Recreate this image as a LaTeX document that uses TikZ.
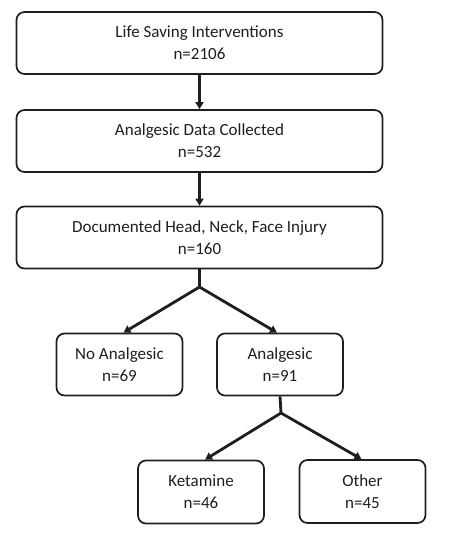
\documentclass[tikz,border=0pt]{standalone}
\usepackage{fontspec}
\setmainfont{Carlito}
\usetikzlibrary{arrows.meta}
\definecolor{ink}{HTML}{1E1E1E}
\definecolor{txt}{HTML}{1E1E1E}
\begin{document}
\begin{tikzpicture}[x=1pt,y=-1pt,
  box/.style={draw=ink, line width=1.7pt, rounded corners=8pt, inner sep=0pt, align=center,
    text=txt, font=\fontsize{17}{22}\selectfont, minimum height=62pt},
  wide/.style={box, minimum width=366pt},
  small/.style={box, minimum width=126pt},
  conn/.style={draw=ink, line width=2.8pt},
  arr/.style={conn, -{Triangle[length=7pt,width=8pt]}}]
\useasboundingbox (0,0) rectangle (456,540);
\node[wide] (b1) at (199.5,43) {Life Saving Interventions\\n=2106};
\node[wide] (b2) at (199.5,141) {Analgesic Data Collected\\n=532};
\node[wide] (b3) at (199.5,237.5) {Documented Head, Neck, Face Injury\\n=160};
\node[small] (noa) at (119.5,364.5) {No Analgesic\\n=69};
\node[small] (ana) at (280,364.5) {Analgesic\\n=91};
\node[small, minimum height=63pt] (ket) at (201,492) {Ketamine\\n=46};
\node[small, minimum height=63pt] (oth) at (362.5,491.5) {Other\\n=45};
\coordinate (s1) at (199.5,287);
\coordinate (s2) at (281,413);
\draw[arr] (b1.south) -- (b2.north);
\draw[arr] (b2.south) -- (b3.north);
\draw[conn] (b3.south) -- (s1);
\draw[arr] (s1) -- ([xshift=4pt]noa.north);
\draw[arr] (s1) -- ([xshift=-3pt]ana.north);
\draw[conn] (ana.south) -- (s2);
\draw[arr] (s2) -- ([xshift=4pt]ket.north);
\draw[arr] (s2) -- ([xshift=-1pt]oth.north);
\end{tikzpicture}
\end{document}
